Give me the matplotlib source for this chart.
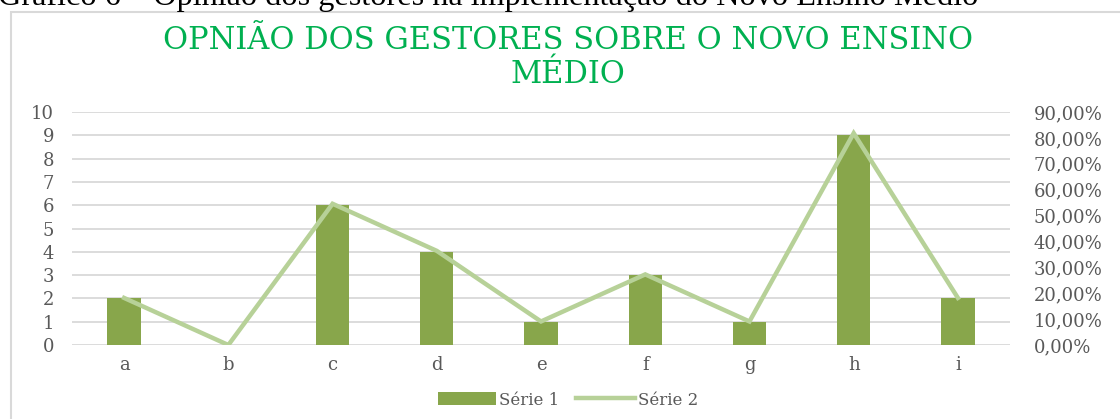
import matplotlib.pyplot as plt
import matplotlib.patches as patches
from matplotlib.ticker import FuncFormatter
import numpy as np

categorias = ['a', 'b', 'c', 'd', 'e', 'f', 'g', 'h', 'i']
serie1 = [2, 0, 6, 4, 1, 3, 1, 9, 2]
serie2 = [0.1818, 0.0, 0.5455, 0.3636, 0.0909, 0.2727, 0.0909, 0.8182, 0.1818]
ticks_esq = list(range(0, 11))
ticks_dir = [i / 10 for i in range(0, 10)]

cor_barra = '#88A64B'
cor_linha = '#B7D198'
cor_texto = '#595959'
cor_grade = '#D9D9D9'
fonte = 'DejaVu Serif'

fig = plt.figure(figsize=(11.2, 4.19), dpi=100)
ax = fig.add_axes([0.0643, 0.1766, 0.8375, 0.5561])

# moldura do grafico (cortada na direita e embaixo)
fig.patches.append(patches.Rectangle((11 / 1120, -0.05), 1.2, 1.05 - 12 / 419,
                                     transform=fig.transFigure, fill=False,
                                     edgecolor=cor_grade, linewidth=1.5))

# legenda do documento, cortada no topo
fig.text(-0.002, 1 - 5 / 419, 'Gráfico 6 – Opinião dos gestores na implementação do Novo Ensino Médio',
         family='Liberation Serif', fontsize=23.2, color='black', va='baseline', ha='left')

x = np.arange(len(categorias))
ax.bar(x, serie1, width=0.32, color=cor_barra, label='Série 1', zorder=2)
ax.set_xlim(-0.5, len(categorias) - 0.5)
ax.set_ylim(0, 10)
ax.set_yticks(ticks_esq)
ax.set_xticks(x)
ax.set_xticklabels(categorias)
ax.yaxis.grid(True, color=cor_grade, linewidth=1.3, zorder=0)
ax.set_axisbelow(True)
for s in ax.spines.values():
    s.set_visible(False)
ax.tick_params(length=0, colors=cor_texto, labelsize=13)
ax.tick_params(axis='y', pad=13)
ax.tick_params(axis='x', pad=8)
for lbl in ax.get_xticklabels() + ax.get_yticklabels():
    lbl.set_family(fonte)

ax2 = ax.twinx()
ax2.plot(x, serie2, color=cor_linha, linewidth=3.2, label='Série 2', solid_joinstyle='miter')
ax2.set_ylim(0, 0.9)
ax2.set_yticks(ticks_dir)
ax2.yaxis.set_major_formatter(FuncFormatter(lambda v, p: f'{v * 100:.2f}%'.replace('.', ',')))
for s in ax2.spines.values():
    s.set_visible(False)
ax2.tick_params(length=0, colors=cor_texto, labelsize=13, pad=17)
for lbl in ax2.get_yticklabels():
    lbl.set_family(fonte)

fig.text(0.507, 1 - 49 / 419, 'OPNIÃO DOS GESTORES SOBRE O NOVO ENSINO',
         ha='center', va='baseline', color='#00B050', fontsize=22,
         family=fonte)
fig.text(0.507, 1 - 83 / 419, 'MÉDIO',
         ha='center', va='baseline', color='#00B050', fontsize=22,
         family=fonte)

h1, l1 = ax.get_legend_handles_labels()
h2, l2 = ax2.get_legend_handles_labels()
fig.legend(h1 + h2, l1 + l2, loc='center', bbox_to_anchor=(0.507, 1 - 400 / 419),
           ncol=2, frameon=False, handlelength=3.5, handleheight=0.8,
           columnspacing=1.0, handletextpad=0.2, labelcolor=cor_texto,
           prop={'family': fonte, 'size': 12})

fig.savefig('out.png', dpi=100)
